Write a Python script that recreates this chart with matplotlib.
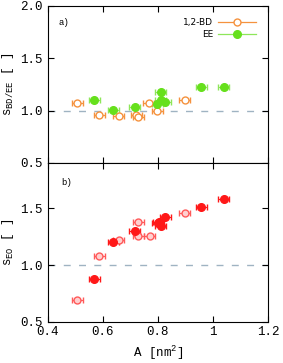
import matplotlib
matplotlib.use("Agg")
import matplotlib.pyplot as plt
from matplotlib.lines import Line2D
import numpy as np

plt.rcParams['font.family'] = ['Liberation Mono', 'DejaVu Sans Mono']
plt.rcParams['mathtext.fontset'] = 'custom'
plt.rcParams['mathtext.rm'] = 'Liberation Mono'
plt.rcParams['mathtext.it'] = 'Liberation Mono'

# Panel a) data
bd_x = [0.507, 0.587, 0.657, 0.721, 0.728, 0.767, 0.798, 0.898]
bd_y = [1.069, 0.955, 0.948, 0.958, 0.940, 1.069, 0.996, 1.100]
ee_x = [0.568, 0.638, 0.716, 0.810, 0.810, 0.798, 0.827, 0.958, 1.039]
ee_y = [1.104, 1.009, 1.031, 1.177, 1.104, 1.063, 1.082, 1.225, 1.225]

# Panel b) data
eo_open_x = [0.507, 0.587, 0.657, 0.728, 0.728, 0.770, 0.898]
eo_open_y = [0.691, 1.080, 1.220, 1.380, 1.260, 1.256, 1.459]
eo_fill_x = [0.568, 0.638, 0.716, 0.800, 0.802, 0.810, 0.827, 0.958, 1.039]
eo_fill_y = [0.876, 1.203, 1.303, 1.370, 1.380, 1.344, 1.420, 1.515, 1.582]

xerr = 0.02
yerr = 0.012

orange = '#f5923e'
green = '#66e01c'
green_bar = '#8ee65a'
red = '#ff1818'
red_open = '#ff5a5a'
dash_col = '#9fb3c2'

fig = plt.figure(figsize=(2.83, 3.63), dpi=100)
ax1 = fig.add_axes([0.1696, 0.551, 0.7774, 0.4325])
ax2 = fig.add_axes([0.1696, 0.113, 0.7774, 0.438])

for ax in (ax1, ax2):
    ax.axhline(1.0, color=dash_col, lw=1.0, ls=(0, (5, 6)), zorder=1)
    ax.set_xlim(0.4, 1.2)
    ax.set_xticks([0.4, 0.6, 0.8, 1.0, 1.2])
    ax.tick_params(direction='in', top=True, right=True, length=4, width=0.8,
                   labelsize=9)
    ax.tick_params(axis='y', pad=4)
    ax.tick_params(axis='x', pad=3)
    for s in ax.spines.values():
        s.set_linewidth(0.8)

ax1.errorbar(bd_x, bd_y, xerr=xerr, yerr=yerr, fmt='o', ms=5, mfc='white',
             mec=orange, mew=1.0, ecolor=orange, elinewidth=0.9, capsize=2,
             color=orange, zorder=3)
ax1.errorbar(ee_x, ee_y, xerr=xerr, fmt='o', ms=5.5, mfc=green, mec=green,
             ecolor=green_bar, elinewidth=0.9, capsize=2, color=green,
             zorder=3)
ax1.set_ylim(0.5, 2.0)
ax1.set_yticks([0.5, 1.0, 1.5, 2.0])
ax1.set_yticklabels(['0.5', '1.0', '1.5', '2.0'])
ax1.set_xticklabels([])
ax1.set_ylabel(r's$_{\mathrm{BD/EE}}$ [ ]', fontsize=9, labelpad=3)
ax1.text(0.05, 0.88, 'a)', transform=ax1.transAxes, fontsize=6.5)

h_bd = Line2D([], [], color=orange, lw=0.9, marker='o', ms=5, mfc='white',
              mec=orange, mew=1.0)
h_ee = Line2D([], [], color=green_bar, lw=0.9, marker='o', ms=5.5,
              mfc=green, mec=green)
ax1.legend([h_bd, h_ee], ['1,2-BD', 'EE'], loc='upper right',
           markerfirst=False, frameon=False,
           prop={'family': 'DejaVu Sans', 'size': 6.5}, handlelength=4.2,
           handletextpad=0.6, borderaxespad=0.9, labelspacing=0.35)

ax2.errorbar(eo_open_x, eo_open_y, xerr=xerr, yerr=yerr, fmt='o', ms=5,
             mfc='#ffd0d0', mec=red_open, mew=1.0, ecolor=red_open,
             elinewidth=0.9, capsize=2, zorder=3)
ax2.errorbar(eo_fill_x, eo_fill_y, xerr=xerr, fmt='o', ms=5.5, mfc=red,
             mec=red, ecolor=red, elinewidth=0.9, capsize=2, zorder=3)
ax2.set_ylim(0.5, 1.9)
ax2.set_yticks([0.5, 1.0, 1.5])
ax2.set_yticklabels(['0.5', '1.0', '1.5'])
ax2.set_xticklabels(['0.4', '0.6', '0.8', '1', '1.2'])
ax2.set_ylabel(r's$_{\mathrm{EO}}$ [ ]', fontsize=9, labelpad=3)
ax2.set_xlabel(r'A [nm$^{2}$]', fontsize=9, labelpad=4)
ax2.text(0.06, 0.86, 'b)', transform=ax2.transAxes, fontsize=6.5)

fig.savefig('out.png', dpi=100)
